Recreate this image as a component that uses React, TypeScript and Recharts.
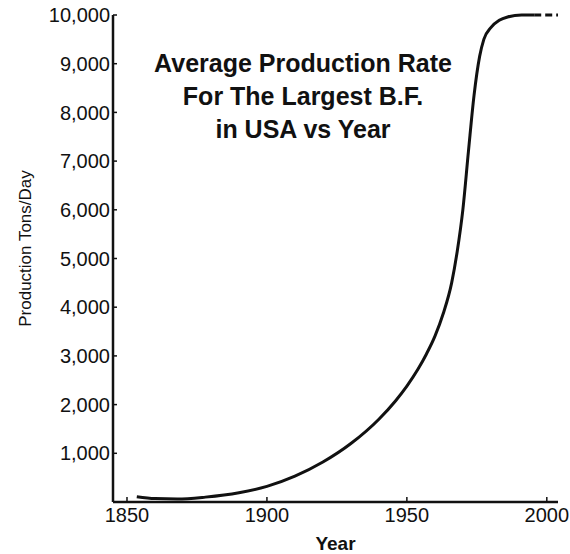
import { LineChart, Line, XAxis, YAxis, Label } from "recharts";

// solid curve: year vs tons/day
const YEARS = [1853.5, 1860, 1868, 1878, 1890, 1900, 1910, 1920, 1930, 1940, 1946, 1950, 1954, 1957, 1960, 1963, 1966, 1968, 1970, 1972, 1974, 1976, 1977.5, 1980, 1983, 1986, 1991, 1995.5];
const TONS = [110, 70, 60, 100, 190, 320, 530, 820, 1200, 1700, 2080, 2380, 2730, 3040, 3400, 3870, 4500, 5150, 6000, 7200, 8350, 9150, 9500, 9740, 9890, 9960, 10000, 10000];

// dashed projection past the solid curve
const PROJ_YEARS = [1995.5, 2004];
const PROJ_TONS = [10000, 10000];

const X_TICKS = [1850, 1900, 1950, 2000];
const Y_TICKS = [1000, 2000, 3000, 4000, 5000, 6000, 7000, 8000, 9000, 10000];

const TITLE = ["Average Production Rate", "For The Largest B.F.", "in USA vs Year"];

const FONT = "'Liberation Sans', Arial, sans-serif";
const INK = "#111";

const solid = YEARS.map((y, i) => ({ year: y, tons: TONS[i] }));
const proj = PROJ_YEARS.map((y, i) => ({ year: y, tons: PROJ_TONS[i] }));

const YLabel = (props: any) => {
  const vb = props.viewBox || { x: 0, y: 0, width: 0, height: 0 };
  const cx = vb.x + 25;
  const cy = vb.y + vb.height / 2 - 10;
  return (
    <text
      x={cx}
      y={cy}
      transform={`rotate(-90 ${cx} ${cy})`}
      textAnchor="middle"
      dominantBaseline="central"
      fontFamily={FONT}
      fontSize={17}
      fill={INK}
    >
      Production Tons/Day
    </text>
  );
};

export default function App() {
  return (
    <div style={{ position: "absolute", left: 0, top: 0, width: 570, height: 554, background: "#fff" }}>
      <LineChart width={570} height={554} margin={{ top: 15, right: 12, bottom: 0, left: 0 }}>
        <XAxis
          dataKey="year"
          type="number"
          domain={[1845, 2004]}
          ticks={X_TICKS}
          height={52}
          axisLine={{ stroke: INK, strokeWidth: 2.5 }}
          tickLine={{ stroke: INK, strokeWidth: 1.5 }}
          tickSize={-5}
          tickMargin={11}
          tick={{ fill: INK, fontSize: 20, fontFamily: FONT }}
          allowDuplicatedCategory={false}
        >
          <Label value="Year" position="insideBottom" offset={4} fill={INK} fontSize={19} fontWeight="bold" fontFamily={FONT} />
        </XAxis>
        <YAxis
          type="number"
          domain={[0, 10000]}
          ticks={Y_TICKS}
          width={113}
          axisLine={{ stroke: INK, strokeWidth: 2.5 }}
          tickLine={{ stroke: INK, strokeWidth: 1.5 }}
          tickSize={-4}
          tickMargin={7}
          tick={{ fill: INK, fontSize: 20, fontFamily: FONT }}
          tickFormatter={(v: number) => v.toLocaleString("en-US")}
        >
          <Label content={YLabel} />
        </YAxis>
        <Line data={solid} dataKey="tons" type="monotone" stroke={INK} strokeWidth={3} dot={false} isAnimationActive={false} />
        <Line data={proj} dataKey="tons" type="linear" stroke={INK} strokeWidth={3} strokeDasharray="7 4" dot={false} isAnimationActive={false} />
      </LineChart>
      <div
        style={{
          position: "absolute",
          left: 150,
          top: 47,
          width: 306,
          textAlign: "center",
          fontFamily: FONT,
          fontWeight: "bold",
          fontSize: 25,
          lineHeight: "33px",
          color: INK,
          whiteSpace: "nowrap",
        }}
      >
        {TITLE.map((t) => (
          <div key={t}>{t}</div>
        ))}
      </div>
    </div>
  );
}
